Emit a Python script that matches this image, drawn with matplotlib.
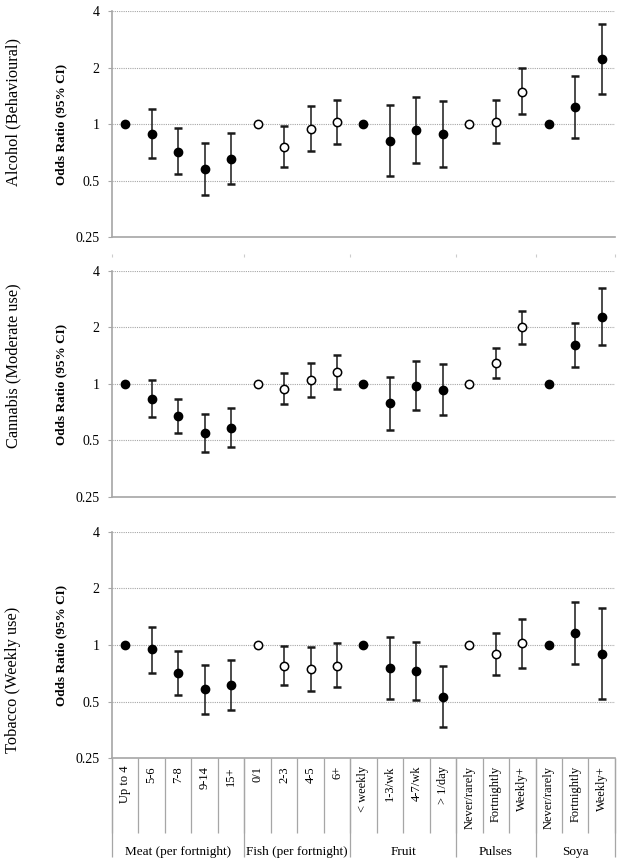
import numpy as np
import matplotlib
matplotlib.use('Agg')
import matplotlib.pyplot as plt

plt.rcParams['font.family'] = ['Liberation Serif', 'DejaVu Serif']

nan = np.nan

# Categories of the x axis (bottom panel shows them)
categories = ['Up to 4', '5-6', '7-8', '9-14', '15+',
              '0/1', '2-3', '4-5', '6+',
              '< weekly', '1-3/wk', '4-7/wk', '> 1/day',
              'Never/rarely', 'Fortnightly', 'Weekly+',
              'Never/rarely', 'Fortnightly', 'Weekly+']
groups = ['Meat (per fortnight)', 'Fish (per fortnight)', 'Fruit', 'Pulses', 'Soya']
group_sizes = [5, 4, 4, 3, 3]
open_groups = ['Fish (per fortnight)', 'Pulses']

panel_titles = ['Alcohol (Behavioural)', 'Cannabis (Moderate use)', 'Tobacco (Weekly use)']

alcohol_or = [1, 0.89, 0.71, 0.575, 0.655, 1, 0.757, 0.944, 1.02,
              1, 0.815, 0.93, 0.88, 1, 1.03, 1.49, 1, 1.23, 2.21]
alcohol_lo = [nan, 0.66, 0.54, 0.42, 0.48, nan, 0.587, 0.715, 0.78,
              nan, 0.527, 0.62, 0.587, nan, 0.795, 1.13, nan, 0.84, 1.44]
alcohol_hi = [nan, 1.20, 0.95, 0.795, 0.90, nan, 0.98, 1.25, 1.35,
              nan, 1.26, 1.39, 1.33, nan, 1.35, 1.98, nan, 1.81, 3.41]

cannabis_or = [1, 0.83, 0.672, 0.547, 0.584, 1, 0.94, 1.05, 1.16,
               1, 0.788, 0.976, 0.93, 1, 1.295, 2.0, 1, 1.61, 2.28]
cannabis_lo = [nan, 0.67, 0.547, 0.435, 0.463, nan, 0.779, 0.852, 0.94,
               nan, 0.57, 0.726, 0.686, nan, 1.07, 1.63, nan, 1.23, 1.61]
cannabis_hi = [nan, 1.046, 0.83, 0.691, 0.741, nan, 1.145, 1.295, 1.42,
               nan, 1.094, 1.33, 1.27, nan, 1.56, 2.45, nan, 2.12, 3.23]

tobacco_or = [1, 0.948, 0.707, 0.581, 0.61, 1, 0.777, 0.745, 0.777,
              1, 0.752, 0.73, 0.53, 1, 0.896, 1.02, 1, 1.16, 0.90]
tobacco_lo = [nan, 0.713, 0.54, 0.427, 0.448, nan, 0.613, 0.567, 0.596,
              nan, 0.514, 0.51, 0.367, nan, 0.693, 0.758, nan, 0.79, 0.514]
tobacco_hi = [nan, 1.25, 0.933, 0.786, 0.832, nan, 0.988, 0.976, 1.02,
              nan, 1.10, 1.04, 0.77, nan, 1.163, 1.37, nan, 1.69, 1.58]

panels = [(alcohol_or, alcohol_lo, alcohol_hi),
          (cannabis_or, cannabis_lo, cannabis_hi),
          (tobacco_or, tobacco_lo, tobacco_hi)]

gris = '#a6a6a6'
x = np.arange(len(categories))
bornes = np.concatenate([[0], np.cumsum(group_sizes)]) - 0.5
est_ouvert = []
for g, n in zip(groups, group_sizes):
    est_ouvert += [g in open_groups] * n
est_ouvert = np.array(est_ouvert)

fig = plt.figure(figsize=(6.24, 8.67), dpi=100, facecolor='white')

# positions des panneaux (fractions de la figure)
left, width = 0.1795, 0.806
bas = [0.7266, 0.4268, 0.1257]
haut = 0.2607
centres_titres = [112, 366, 680]  # pixels depuis le haut

axes = []
for i, (vals, lo, hi) in enumerate(panels):
    ax = fig.add_axes([left, bas[i], width, haut])
    axes.append(ax)
    vals = np.array(vals)
    lo = np.array(lo)
    hi = np.array(hi)

    ax.set_yscale('log', base=2)
    ax.set_ylim(0.25, 4)
    ax.set_xlim(-0.5, len(categories) - 0.5)
    ax.set_yticks([0.25, 0.5, 1, 2, 4])
    ax.set_yticklabels(['0.25', '0.5', '1', '2', '4'])
    ax.yaxis.set_minor_locator(matplotlib.ticker.NullLocator())
    ax.set_xticks([])
    ax.grid(axis='y', color=gris, linestyle=(0, (1, 1)), linewidth=0.8)
    ax.set_axisbelow(True)
    for s in ['top', 'right']:
        ax.spines[s].set_visible(False)
    for s in ['left', 'bottom']:
        ax.spines[s].set_color(gris)
        ax.spines[s].set_linewidth(1.2)
    ax.tick_params(axis='y', length=3, color=gris, labelsize=10, pad=6)

    # barres d'erreur
    ok = ~np.isnan(lo)
    ax.errorbar(x[ok], vals[ok], yerr=[vals[ok] - lo[ok], hi[ok] - vals[ok]],
                fmt='none', ecolor='#1a1a1a', elinewidth=1.1,
                capsize=3, capthick=1.8, zorder=3)
    # points pleins / vides
    ax.plot(x[~est_ouvert], vals[~est_ouvert], 'o', color='black',
            markersize=6, zorder=4)
    ax.plot(x[est_ouvert], vals[est_ouvert], 'o', markerfacecolor='white',
            markeredgecolor='black', markeredgewidth=1.1,
            markersize=6, zorder=4)

    ax.set_ylabel('Odds Ratio (95% CI)', fontsize=9.5, fontweight='bold')
    ax.yaxis.set_label_coords(-0.089, 0.5)
    fig.text(13 / 624, 1 - centres_titres[i] / 867, panel_titles[i],
             rotation=90, ha='center', va='center', fontsize=11.8)

# petits traits aux limites des groupes sous le premier panneau
axes[0].vlines(bornes, -0.09, -0.075, transform=axes[0].get_xaxis_transform(),
               colors='#cccccc', linewidth=0.8, clip_on=False)

# axe des catégories à deux niveaux sous le dernier panneau
axb = axes[2]
trans = axb.get_xaxis_transform()
separateurs = np.arange(len(categories) + 1) - 0.5
axb.vlines(separateurs, -0.33, 0, transform=trans, colors=gris,
           linewidth=0.9, clip_on=False)
axb.vlines(bornes, -0.436, 0, transform=trans, colors=gris,
           linewidth=0.9, clip_on=False)
for xi, cat in zip(x, categories):
    axb.text(xi, -0.035, cat, transform=trans, rotation=90,
             ha='center', va='top', fontsize=9)
for g, a, b in zip(groups, bornes[:-1], bornes[1:]):
    axb.text((a + b) / 2, -0.414, g, transform=trans,
             ha='center', va='center', fontsize=9.5)

fig.savefig('out.png', dpi=100, facecolor='white')
plt.close()
